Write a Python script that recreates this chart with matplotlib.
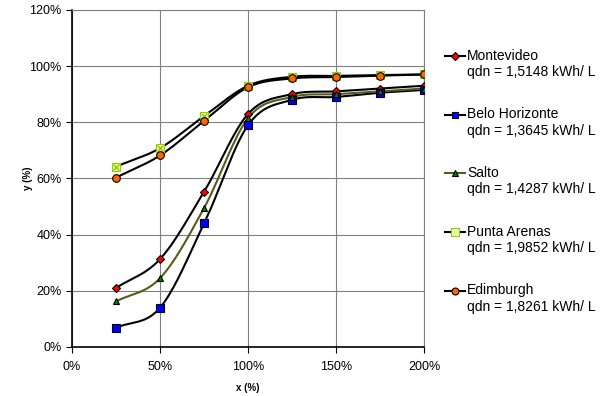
import numpy as np
import matplotlib
matplotlib.use('Agg')
import matplotlib.pyplot as plt
from matplotlib.legend_handler import HandlerLine2D

plt.rcParams['font.family'] = ['Liberation Sans', 'DejaVu Sans']

x = [25, 50, 75, 100, 125, 150, 175, 200]
montevideo = [21, 31.3, 55.3, 83, 90, 91, 92, 93]
belo_horizonte = [6.8, 14, 44, 79, 88, 89, 90.5, 91.5]
salto = [16.2, 24.5, 49.5, 81.5, 89, 90, 91, 92]
punta_arenas = [64.2, 70.8, 82.2, 93, 96.2, 96.5, 96.8, 97]
edimburgh = [60.3, 68.2, 80.5, 92.5, 95.6, 96.1, 96.6, 97]

names = ['Montevideo', 'Belo Horizonte', 'Salto', 'Punta Arenas', 'Edimburgh']
qdn = ['1,5148', '1,3645', '1,4287', '1,9852', '1,8261']
series = [montevideo, belo_horizonte, salto, punta_arenas, edimburgh]

styles = [
    dict(color='black', marker='D', mfc='#FF0000', mec='black', ms=4.5),
    dict(color='black', marker='s', mfc='#0000FF', mec='black', ms=5.5),
    dict(color='#5a5a1e', marker='^', mfc='#008000', mec='black', ms=5),
    dict(color='black', marker='s', mfc='#E8FFB0', mec='#99CC00', ms=6),
    dict(color='black', marker='o', mfc='#FF6600', mec='black', ms=5.5),
]


def smooth(xs, ys, n=20):
    # catmull-rom curve through the points, like excel's smoothed line
    xs = np.asarray(xs, float)
    ys = np.asarray(ys, float)
    px = np.concatenate([[2 * xs[0] - xs[1]], xs, [2 * xs[-1] - xs[-2]]])
    py = np.concatenate([[2 * ys[0] - ys[1]], ys, [2 * ys[-1] - ys[-2]]])
    t = np.linspace(0, 1, n, endpoint=False)
    ox, oy = [], []
    for i in range(1, len(px) - 2):
        for p, o in ((px, ox), (py, oy)):
            p0, p1, p2, p3 = p[i - 1], p[i], p[i + 1], p[i + 2]
            o.extend(0.5 * (2 * p1 + (-p0 + p2) * t + (2 * p0 - 5 * p1 + 4 * p2 - p3) * t ** 2
                            + (-p0 + 3 * p1 - 3 * p2 + p3) * t ** 3))
    ox.append(xs[-1])
    oy.append(ys[-1])
    return ox, oy


class FirstLineHandler(HandlerLine2D):
    def create_artists(self, legend, orig_handle, xdescent, ydescent, width, height, fontsize, trans):
        arts = super().create_artists(legend, orig_handle, xdescent, ydescent, width, height, fontsize, trans)
        for a in arts:
            a.set_ydata(np.asarray(a.get_ydata(), float) + 0.6 * fontsize)
        return arts


fig = plt.figure(figsize=(6.06, 3.96), dpi=100)
ax = fig.add_axes([0.119, 0.124, 0.581, 0.851])

handles = []
for name, q, ys, st in zip(names, qdn, series, styles):
    sx, sy = smooth(x, ys)
    ax.plot(sx, sy, color=st['color'], lw=1.5, zorder=2)
    ax.plot(x, ys, ls='none', marker=st['marker'], mfc=st['mfc'], mec=st['mec'],
            ms=st['ms'], mew=0.8, zorder=3)
    if name == 'Punta Arenas':
        ax.plot(x, ys, ls='none', marker='x', color='#99CC00', ms=4.5, mew=1, zorder=3)
    h, = ax.plot([], [], color=st['color'], lw=1.5, marker=st['marker'], mfc=st['mfc'],
                 mec=st['mec'], ms=st['ms'] - 0.5, mew=0.8,
                 label=name + '\nqdn = ' + q + ' kWh/ L')
    handles.append(h)

ax.set_xlim(0, 200)
ax.set_ylim(0, 120)
ax.set_xticks(np.arange(0, 201, 50))
ax.set_xticklabels([f'{v}%' for v in range(0, 201, 50)])
ax.set_yticks(np.arange(0, 121, 20))
ax.set_yticklabels([f'{v}%' for v in range(0, 121, 20)])
ax.tick_params(labelsize=9, length=4, width=0.8)
ax.tick_params(axis='x', pad=6)
ax.grid(True, color='#808080', lw=0.8)
ax.set_axisbelow(True)
for s in ['top', 'right']:
    ax.spines[s].set_color('#808080')
for s in ['left', 'bottom']:
    ax.spines[s].set_linewidth(1.2)
ax.set_xlabel('x (%)', fontsize=7, fontweight='bold', labelpad=7)
ax.set_ylabel('y (%)', fontsize=7, fontweight='bold')
ax.yaxis.set_label_coords(-0.11, 0.5)

fig.legend(handles=handles, loc='upper left', bbox_to_anchor=(0.734, 0.877),
           frameon=False, fontsize=10, handlelength=1.45, handletextpad=0.15,
           labelspacing=2.05, borderpad=0, borderaxespad=0,
           handler_map={matplotlib.lines.Line2D: FirstLineHandler()})

fig.savefig('out.png', dpi=100)
